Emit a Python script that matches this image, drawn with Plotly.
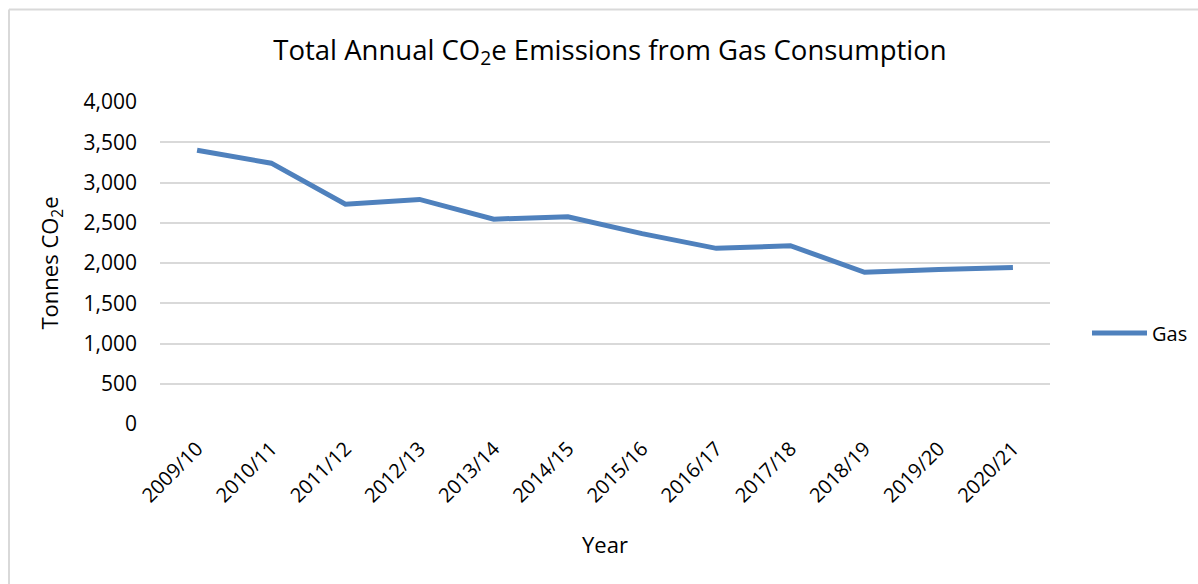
import plotly.graph_objects as go

years = ["2009/10", "2010/11", "2011/12", "2012/13", "2013/14", "2014/15",
         "2015/16", "2016/17", "2017/18", "2018/19", "2019/20", "2020/21"]
gas_tonnes = [3400, 3240, 2730, 2790, 2545, 2575, 2365, 2182, 2215, 1885, 1920, 1945]

y_ticks = [0, 500, 1000, 1500, 2000, 2500, 3000, 3500, 4000]

FONT = "Open Sans"
W, H = 1198, 584
L, R, T, B = 160, 148, 102, 160
pw, ph = W - L - R, H - T - B


def px_x(x):
    return (x - L) / pw


def px_y(y):
    return (H - B - y) / ph


fig = go.Figure()
fig.add_trace(go.Scatter(
    x=years, y=gas_tonnes, mode="lines", name="Gas",
    line=dict(color="#4F81BD", width=5, shape="linear"),
))

fig.update_layout(
    width=W, height=H,
    margin=dict(l=L, r=R, t=T, b=B, autoexpand=False),
    paper_bgcolor="white", plot_bgcolor="white",
    font=dict(family=FONT, color="#000000", size=21),
    title=dict(
        text="Total Annual CO<sub>2</sub>e Emissions from Gas Consumption",
        x=px_x(610), xanchor="center", xref="paper",
        y=1 - 50 / H, yanchor="middle",
        font=dict(family=FONT, size=27.5, color="#000000"),
    ),
    xaxis=dict(
        type="category", range=[-0.5, 11.5],
        tickangle=-45, tickfont=dict(size=20),
        showgrid=False, showline=False, zeroline=False, ticks="",
        ticklabelstandoff=8,
        title=dict(text="Year", font=dict(size=22), standoff=30),
    ),
    yaxis=dict(
        range=[0, 4000], tickvals=y_ticks, tickformat=",",
        tickfont=dict(size=21),
        showgrid=True, gridcolor="#D9D9D9", gridwidth=1.5,
        zeroline=False, showline=False, ticks="",
        ticklabelstandoff=22,
        title=dict(text="Tonnes CO<sub>2</sub>e", font=dict(size=22), standoff=18),
    ),
    showlegend=True,
    legend=dict(
        x=px_x(1087), xanchor="left", y=px_y(333), yanchor="middle",
        font=dict(size=20), itemwidth=55, bgcolor="rgba(0,0,0,0)",
    ),
)

# chart frame: top and left edges
fig.add_shape(type="line", xref="paper", yref="paper",
              x0=px_x(9), x1=px_x(1198), y0=px_y(9.5), y1=px_y(9.5),
              line=dict(color="#D9D9D9", width=2))
fig.add_shape(type="line", xref="paper", yref="paper",
              x0=px_x(9), x1=px_x(9), y0=px_y(9.5), y1=px_y(584),
              line=dict(color="#D9D9D9", width=2))

fig.write_html("out.html")
